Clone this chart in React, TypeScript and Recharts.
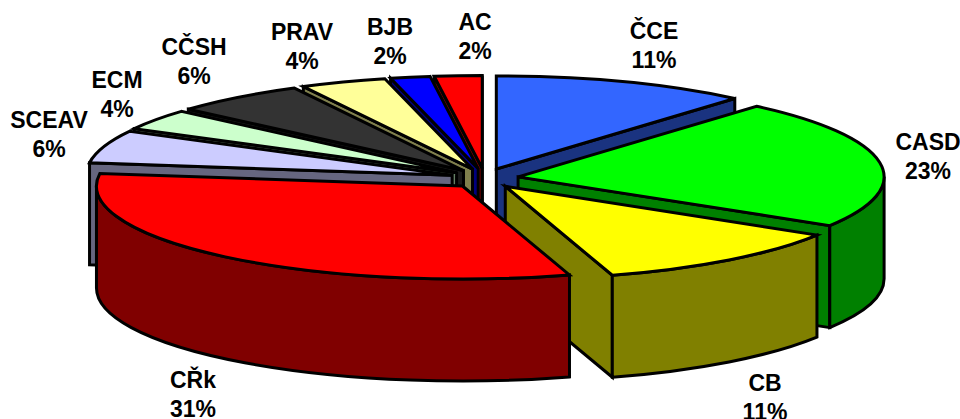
import React from "react";
import { PieChart, Pie } from "recharts";

// Clockwise from 12 o'clock, front part of the pie
const frontNames = ["ČCE", "CASD", "CB", "CŘk"];
const frontValues = [11.3, 22.5, 11.5, 31.9];
const frontShares = ["11%", "23%", "11%", "31%"];
const frontTop = ["#3366FF", "#00FF00", "#FFFF00", "#FF0000"];
const frontSide = ["#1A3380", "#008000", "#808000", "#800000"];

// Counter-clockwise from 12 o'clock, back part of the pie
const backNames = ["AC", "BJB", "PRAV", "CČSH", "ECM", "SCEAV"];
const backValues = [2.1, 1.75, 3.8, 5.9, 3.6, 5.7];
const backShares = ["2%", "2%", "4%", "6%", "4%", "6%"];
const backTop = ["#FF0000", "#0000FF", "#FFFF99", "#333333", "#CCFFCC", "#CCCCFF"];
const backSide = ["#800000", "#000080", "#80804D", "#1A1A1A", "#668066", "#666680"];

// Label centres in the page
const labelCentres: Record<string, [number, number]> = {
  "ČCE": [654, 45],
  CASD: [928, 156],
  CB: [765, 397],
  "CŘk": [193, 394],
  SCEAV: [49, 134],
  ECM: [117, 94],
  "CČSH": [194, 61],
  PRAV: [302, 46],
  BJB: [390, 41],
  AC: [475, 36],
};

const WIDTH = 960;
const HEIGHT = 419;
const CX = 484.5;
const CY = 178.4;
const RADIUS = 366;
const TILT = 93 / 366;
const DEPTH = 102;
const EXPLODE_X = 34;
const EXPLODE_Y = 10;
const LINE = 3;

const sum = (a: number[]) => a.reduce((s, v) => s + v, 0);
const table = (names: string[], values: number[], shares: string[], top: string[], side: string[]) =>
  names.map((name, i) => ({ name, value: values[i], share: shares[i], top: top[i], side: side[i] }));

const frontData = table(frontNames, frontValues, frontShares, frontTop, frontSide);
const backData = table(backNames, backValues, backShares, backTop, backSide);
const total = sum(frontValues) + sum(backValues);
const DEG = 360 / total;

function Slice(props: any) {
  const { cx, cy, outerRadius, startAngle, endAngle } = props;
  const top = props.top ?? props.payload?.top;
  const side = props.side ?? props.payload?.side;
  const lo = Math.min(startAngle, endAngle);
  const hi = Math.max(startAngle, endAngle);
  const rad = (d: number) => d * (Math.PI / 180);
  const mid = rad((lo + hi) / 2);
  const ax = cx + EXPLODE_X * Math.cos(mid);
  const ay = cy - EXPLODE_Y * Math.sin(mid);
  const rx = outerRadius;
  const ry = outerRadius * TILT;
  const pt = (deg: number, d = 0) =>
    `${ax + rx * Math.cos(rad(deg))} ${ay - ry * Math.sin(rad(deg)) + d}`;
  const large = hi - lo > 180 ? 1 : 0;
  const wallEdge = (deg: number) =>
    `M${ax} ${ay} L${pt(deg)} L${pt(deg, DEPTH)} L${ax} ${ay + DEPTH} Z`;
  // Only the cut faces that turn toward the viewer are drawn
  const cuts: string[] = [];
  if (Math.cos(rad(hi)) < 0) cuts.push(wallEdge(hi));
  if (Math.cos(rad(lo)) > 0) cuts.push(wallEdge(lo));
  const walls: string[] = [];
  for (const k of [-360, 0, 360]) {
    const a = Math.max(lo, -180 + k);
    const b = Math.min(hi, k);
    if (b > a) {
      walls.push(
        `M${pt(b)} A${rx} ${ry} 0 0 1 ${pt(a)} L${pt(a, DEPTH)} A${rx} ${ry} 0 0 0 ${pt(b, DEPTH)} Z`
      );
    }
  }
  const common = { stroke: "#000", strokeWidth: LINE, strokeLinejoin: "miter" as const };
  return (
    <g>
      {cuts.map((d, i) => (
        <path key={`c${i}`} d={d} fill={side} {...common} />
      ))}
      {walls.map((d, i) => (
        <path key={`w${i}`} d={d} fill={side} {...common} />
      ))}
      <path
        d={`M${ax} ${ay} L${pt(hi)} A${rx} ${ry} 0 ${large} 1 ${pt(lo)} Z`}
        fill={top}
        {...common}
      />
    </g>
  );
}

function SliceLabel(props: any) {
  const name = props.name ?? props.payload?.name;
  const share = props.share ?? props.payload?.share;
  const [x, y] = labelCentres[name];
  return (
    <text
      x={x}
      y={y}
      textAnchor="middle"
      fontFamily="'Liberation Sans', Arial, sans-serif"
      fontWeight="bold"
      fontSize={23}
      fill="#000"
    >
      <tspan x={x} dy={-6}>{name}</tspan>
      <tspan x={x} dy={28.5}>{share}</tspan>
    </text>
  );
}

export default function App() {
  return (
    <div style={{ position: "absolute", left: 0, top: 0, width: WIDTH, height: HEIGHT, background: "#fff" }}>
      <PieChart width={WIDTH} height={HEIGHT} margin={{ top: 0, right: 0, bottom: 0, left: 0 }}>
        <Pie
          data={backData}
          dataKey="value"
          nameKey="name"
          cx={CX}
          cy={CY}
          innerRadius={0}
          outerRadius={RADIUS}
          startAngle={90}
          endAngle={90 + sum(backValues) * DEG}
          shape={Slice}
          label={SliceLabel}
          labelLine={false}
          stroke="none"
          isAnimationActive={false}
        />
        <Pie
          data={frontData}
          dataKey="value"
          nameKey="name"
          cx={CX}
          cy={CY}
          innerRadius={0}
          outerRadius={RADIUS}
          startAngle={90}
          endAngle={90 - sum(frontValues) * DEG}
          shape={Slice}
          label={SliceLabel}
          labelLine={false}
          stroke="none"
          isAnimationActive={false}
        />
      </PieChart>
    </div>
  );
}
